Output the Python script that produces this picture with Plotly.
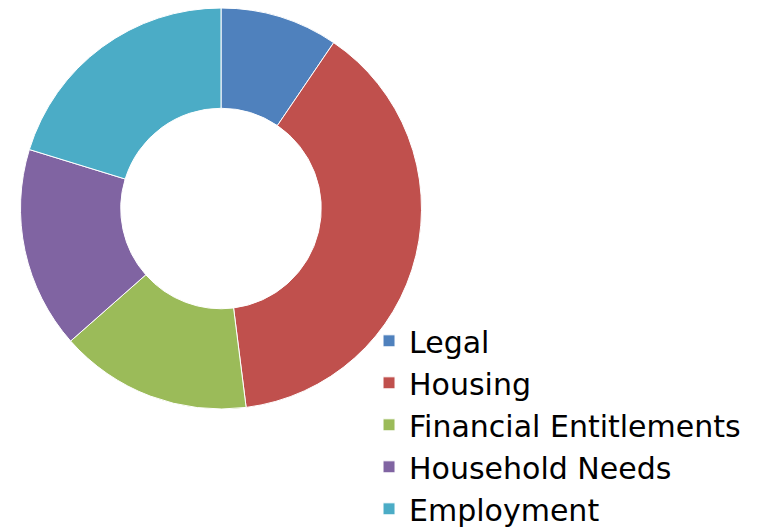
import plotly.graph_objects as go

categories = ["Legal", "Housing", "Financial Entitlements", "Household Needs", "Employment"]
values = [9.5, 38.5, 15.5, 16.25, 20.25]
colors = ["#4F81BD", "#C0504D", "#9BBB59", "#8064A2", "#4BACC6"]

W, H = 761, 527
# page body has an 8px margin, so figure coordinates are offset by 8px
cx, cy, r = 213, 200.5, 200.5

dom_x = [max(0, (cx - r) / W), min(1, (cx + r) / W)]
dom_y = [max(0, (H - cy - r) / H), min(1, (H - cy + r) / H)]

fig = go.Figure(go.Pie(
    labels=categories,
    values=values,
    hole=0.5,
    sort=False,
    direction="clockwise",
    rotation=0,
    textinfo="none",
    marker=dict(colors=colors, line=dict(color="white", width=1)),
    domain=dict(x=dom_x, y=dom_y),
))

fig.update_layout(
    width=W, height=H,
    margin=dict(l=0, r=0, t=0, b=0, autoexpand=False),
    paper_bgcolor="white",
    showlegend=True,
    legend=dict(
        x=0.4744, y=0.4178, xanchor="left", yanchor="top",
        font=dict(family="DejaVu Sans", size=30, color="black"),
        bgcolor="rgba(0,0,0,0)",
    ),
)

fig.write_html("out.html")
